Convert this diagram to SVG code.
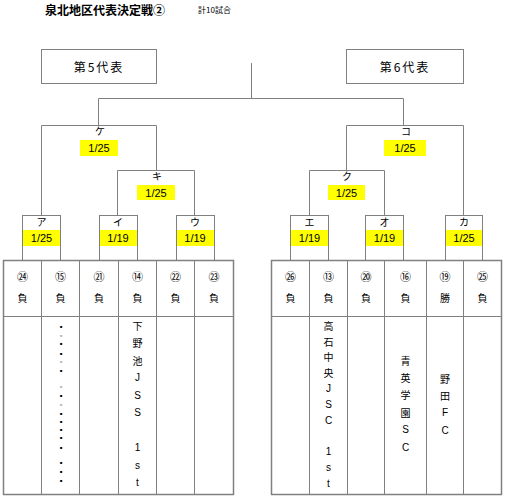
<svg xmlns="http://www.w3.org/2000/svg" width="507" height="502" viewBox="0 0 507 502">
<style>
  .ln { stroke: #808080; stroke-width: 1; fill: none; }
  .box { fill: #ffffff; stroke: #808080; stroke-width: 1; }
  .tbl { fill: none; stroke: #808080; stroke-width: 1; }
  .tblo { fill: #ffffff; stroke: #808080; stroke-width: 1.5; }
  .yl { fill: #ffff00; stroke: none; }
  .t { font-family: 'Liberation Sans', 'Noto Sans CJK JP', sans-serif; fill: #000; text-anchor: middle; dominant-baseline: central; }
  .j { font-family: 'Noto Sans CJK JP', sans-serif; fill: #000; text-anchor: middle; dominant-baseline: central; }
  .d { font-family: 'DejaVu Sans', sans-serif; fill: #000; text-anchor: middle; dominant-baseline: central; font-size: 4px; }
  .lab { font-size: 10px; }
  .date { font-size: 11px; }
  .num { font-size: 11px; }
  .res { font-size: 10px; }
  .vt { font-size: 10px; }
  .vl { font-size: 10px; }
  .faint { fill: #b8b8b8; }
</style>
<rect width="507" height="502" fill="#ffffff"/>

<g id="title">
  <text x="45" y="9" class="j" style="text-anchor:start;font-size:12px;font-weight:bold">泉北地区代表決定戦②</text>
  <text x="198" y="9" class="j" style="text-anchor:start;font-size:8px">計10試合</text>
</g>

<g id="connectors">
  <line class="ln" x1="251.5" y1="63" x2="251.5" y2="98.5"/>
  <line class="ln" x1="98.5" y1="98.5" x2="403.5" y2="98.5"/>
  <line class="ln" x1="98.5" y1="98.5" x2="98.5" y2="125.5"/>
  <line class="ln" x1="41.5" y1="125.5" x2="156.5" y2="125.5"/>
  <line class="ln" x1="41.5" y1="125.5" x2="41.5" y2="215"/>
  <line class="ln" x1="156.5" y1="125.5" x2="156.5" y2="170.5"/>
  <line class="ln" x1="117.5" y1="170.5" x2="194.5" y2="170.5"/>
  <line class="ln" x1="117.5" y1="170.5" x2="117.5" y2="215"/>
  <line class="ln" x1="194.5" y1="170.5" x2="194.5" y2="215"/>
  <line class="ln" x1="403.5" y1="98.5" x2="403.5" y2="125.5"/>
  <line class="ln" x1="346.5" y1="125.5" x2="463.5" y2="125.5"/>
  <line class="ln" x1="346.5" y1="125.5" x2="346.5" y2="170.5"/>
  <line class="ln" x1="463.5" y1="125.5" x2="463.5" y2="215"/>
  <line class="ln" x1="309.5" y1="170.5" x2="384.5" y2="170.5"/>
  <line class="ln" x1="309.5" y1="170.5" x2="309.5" y2="215"/>
  <line class="ln" x1="384.5" y1="170.5" x2="384.5" y2="215"/>
</g>

<g id="rep5">
  <rect class="box" x="41.5" y="49.5" width="115" height="34"/>
  <text x="99" y="66" class="j" style="font-size:12px;letter-spacing:2px">第5代表</text>
</g>
<g id="rep6">
  <rect class="box" x="346.5" y="49.5" width="117" height="34"/>
  <text x="405" y="66" class="j" style="font-size:12px;letter-spacing:2px">第6代表</text>
</g>

<g id="match-ke">
  <text x="100" y="130" class="j lab">ケ</text>
  <rect class="yl" x="80" y="140" width="38" height="16"/>
  <text x="99" y="148" class="t date">1/25</text>
</g>
<g id="match-ki">
  <text x="157" y="175" class="j lab">キ</text>
  <rect class="yl" x="137" y="185" width="38" height="15"/>
  <text x="156" y="192.5" class="t date">1/25</text>
</g>
<g id="match-ko">
  <text x="406" y="130" class="j lab">コ</text>
  <rect class="yl" x="384" y="140" width="42" height="16"/>
  <text x="405" y="148" class="t date">1/25</text>
</g>
<g id="match-ku">
  <text x="347" y="175" class="j lab">ク</text>
  <rect class="yl" x="328" y="185" width="37" height="15"/>
  <text x="346.5" y="192.5" class="t date">1/25</text>
</g>

<g id="match-a">
  <rect class="box" x="22.5" y="215.5" width="38" height="45"/>
  <rect class="yl" x="23" y="230" width="37" height="16"/>
  <text x="41.5" y="221" class="j lab">ア</text>
  <text x="41.5" y="238" class="t date">1/25</text>
</g>
<g id="match-i">
  <rect class="box" x="99.5" y="215.5" width="38" height="45"/>
  <rect class="yl" x="100" y="230" width="37" height="16"/>
  <text x="118" y="221" class="j lab">イ</text>
  <text x="118" y="238" class="t date">1/19</text>
</g>
<g id="match-u">
  <rect class="box" x="176.5" y="215.5" width="38" height="45"/>
  <rect class="yl" x="177" y="230" width="37" height="16"/>
  <text x="195" y="221" class="j lab">ウ</text>
  <text x="195" y="238" class="t date">1/19</text>
</g>
<g id="match-e">
  <rect class="box" x="290.5" y="215.5" width="38" height="45"/>
  <rect class="yl" x="291" y="230" width="37" height="16"/>
  <text x="309.5" y="221" class="j lab">エ</text>
  <text x="309.5" y="238" class="t date">1/19</text>
</g>
<g id="match-o">
  <rect class="box" x="365.5" y="215.5" width="38" height="45"/>
  <rect class="yl" x="366" y="230" width="37" height="16"/>
  <text x="384.5" y="221" class="j lab">オ</text>
  <text x="384.5" y="238" class="t date">1/19</text>
</g>
<g id="match-ka">
  <rect class="box" x="445.5" y="215.5" width="37" height="45"/>
  <rect class="yl" x="446" y="230" width="36" height="16"/>
  <text x="464" y="221" class="j lab">カ</text>
  <text x="464" y="238" class="t date">1/25</text>
</g>

<g id="table-left">
  <rect class="tblo" x="3.5" y="260.5" width="230" height="234"/>
  <line class="tbl" x1="41.5" y1="260.5" x2="41.5" y2="494.5"/>
  <line class="tbl" x1="79.5" y1="260.5" x2="79.5" y2="494.5"/>
  <line class="tbl" x1="118.5" y1="260.5" x2="118.5" y2="494.5"/>
  <line class="tbl" x1="156.5" y1="260.5" x2="156.5" y2="494.5"/>
  <line class="tbl" x1="194.5" y1="260.5" x2="194.5" y2="494.5"/>
  <line class="tbl" x1="3.5" y1="316.5" x2="233.5" y2="316.5"/>
  <text x="22.5" y="276" class="j num">㉔</text>
  <text x="60.5" y="276" class="j num">⑮</text>
  <text x="99" y="276" class="j num">㉑</text>
  <text x="137.5" y="276" class="j num">⑭</text>
  <text x="175.5" y="276" class="j num">㉒</text>
  <text x="214" y="276" class="j num">㉓</text>
  <text x="22.5" y="297" class="j res">負</text>
  <text x="60.5" y="297" class="j res">負</text>
  <text x="99" y="297" class="j res">負</text>
  <text x="137.5" y="297" class="j res">負</text>
  <text x="175.5" y="297" class="j res">負</text>
  <text x="214" y="297" class="j res">負</text>
  <g>
    <text x="61" y="326" class="d">▪</text>
    <text x="61" y="335" class="d faint">▪</text>
    <text x="61" y="343" class="d">▪</text>
    <text x="61" y="353" class="d">▪</text>
    <text x="61" y="361" class="d faint">▪</text>
    <text x="61" y="370" class="d">▪</text>
    <text x="61" y="386" class="d faint">▪</text>
    <text x="61" y="395" class="d">▪</text>
    <text x="61" y="404" class="d faint">▪</text>
    <text x="61" y="413" class="d">▪</text>
    <text x="61" y="421" class="d">▪</text>
    <text x="61" y="429" class="d">▪</text>
    <text x="61" y="437" class="d">▪</text>
    <text x="61" y="447" class="d">▪</text>
    <text x="61" y="462" class="d">▪</text>
    <text x="61" y="471" class="d">▪</text>
    <text x="61" y="480" class="d">▪</text>
  </g>
  <text x="137.5" y="325" class="j vt">下</text>
  <text x="137.5" y="342.5" class="j vt">野</text>
  <text x="137.5" y="360" class="j vt">池</text>
  <text x="137.5" y="377.5" class="t vl">J</text>
  <text x="137.5" y="395" class="t vl">S</text>
  <text x="137.5" y="412.5" class="t vl">S</text>
  <text x="137.5" y="447.5" class="t vl">1</text>
  <text x="137.5" y="465" class="t vl">s</text>
  <text x="137.5" y="482.5" class="t vl">t</text>
</g>

<g id="table-right">
  <rect class="tblo" x="271.5" y="260.5" width="230" height="234"/>
  <line class="tbl" x1="309.5" y1="260.5" x2="309.5" y2="494.5"/>
  <line class="tbl" x1="347.5" y1="260.5" x2="347.5" y2="494.5"/>
  <line class="tbl" x1="384.5" y1="260.5" x2="384.5" y2="494.5"/>
  <line class="tbl" x1="426.5" y1="260.5" x2="426.5" y2="494.5"/>
  <line class="tbl" x1="463.5" y1="260.5" x2="463.5" y2="494.5"/>
  <line class="tbl" x1="271.5" y1="316.5" x2="501.5" y2="316.5"/>
  <text x="290.5" y="276" class="j num">㉖</text>
  <text x="328.5" y="276" class="j num">⑬</text>
  <text x="366" y="276" class="j num">⑳</text>
  <text x="405.5" y="276" class="j num">⑯</text>
  <text x="445" y="276" class="j num">⑲</text>
  <text x="482.5" y="276" class="j num">㉕</text>
  <text x="290.5" y="297" class="j res">負</text>
  <text x="328.5" y="297" class="j res">負</text>
  <text x="366" y="297" class="j res">負</text>
  <text x="405.5" y="297" class="j res">負</text>
  <text x="445" y="297" class="j res">勝</text>
  <text x="482.5" y="297" class="j res">負</text>
  <text x="328.5" y="325" class="j vt">高</text>
  <text x="328.5" y="341" class="j vt">石</text>
  <text x="328.5" y="356.5" class="j vt">中</text>
  <text x="328.5" y="372.5" class="j vt">央</text>
  <text x="328.5" y="388" class="t vl">J</text>
  <text x="328.5" y="404" class="t vl">S</text>
  <text x="328.5" y="420" class="t vl">C</text>
  <text x="328.5" y="451.5" class="t vl">1</text>
  <text x="328.5" y="467" class="t vl">s</text>
  <text x="328.5" y="483" class="t vl">t</text>
  <text x="405.5" y="360" class="j vt">青</text>
  <text x="405.5" y="377.5" class="j vt">英</text>
  <text x="405.5" y="394.5" class="j vt">学</text>
  <text x="405.5" y="412" class="j vt">園</text>
  <text x="405.5" y="429.5" class="t vl">S</text>
  <text x="405.5" y="447" class="t vl">C</text>
  <text x="445" y="378" class="j vt">野</text>
  <text x="445" y="395" class="j vt">田</text>
  <text x="445" y="412.5" class="t vl">F</text>
  <text x="445" y="430" class="t vl">C</text>
</g>
</svg>
